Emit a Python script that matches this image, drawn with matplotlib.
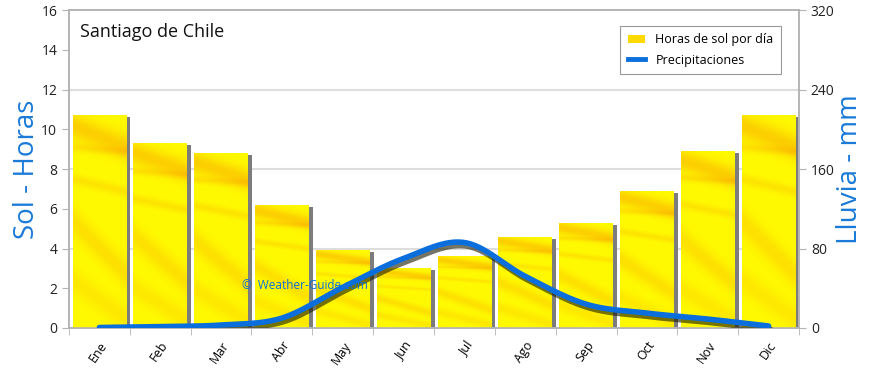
import numpy as np
import matplotlib
matplotlib.use("Agg")
from matplotlib import pyplot as plt
from matplotlib import patheffects as pe
from matplotlib.patches import Patch, Rectangle
from matplotlib.lines import Line2D

plt.rcParams['font.family'] = ['Open Sans', 'DejaVu Sans']

months = ['Ene', 'Feb', 'Mar', 'Abr', 'May', 'Jun', 'Jul', 'Ago', 'Sep', 'Oct', 'Nov', 'Dic']
sun_hours = [10.7, 9.3, 8.8, 6.2, 3.9, 3.0, 3.6, 4.6, 5.3, 6.9, 8.9, 10.7]
rain_mm = [0.5, 1.5, 3, 10, 41, 70, 86, 52, 24, 15, 9, 2]

blue = '#0a6fdc'
label_blue = '#1a7ad8'
grey = '#b4b4b4'


def bar_texture(rows=240, cols=60):
    # yellow with orange diagonal streaks, like the original bar fill
    v, u = np.mgrid[0:1:rows * 1j, 0:1:cols * 1j]
    k = np.zeros_like(u)
    k += 0.6 * np.exp(-((v - (0.05 + 0.10 * u)) / 0.06) ** 2)
    k += 0.3 * np.exp(-((v - (0.15 + 0.02 * u)) / 0.02) ** 2)
    k += 0.3 * np.exp(-((v - (0.30 + 0.06 * u)) / 0.025) ** 2)
    k += 0.35 * np.exp(-((v - (0.50 + 0.25 * u)) / 0.07) ** 2)
    k += 0.25 * np.exp(-((v - (0.78 + 0.18 * u)) / 0.06) ** 2)
    k = np.clip(k, 0, 0.9)[..., None]
    yellow = np.array([1.0, 0.98, 0.0])
    orange = np.array([0.98, 0.70, 0.0])
    return yellow * (1 - k) + orange * k


def smooth(x, y, n=30):
    x = np.asarray(x, float)
    y = np.asarray(y, float)
    m = np.gradient(y)
    xs, ys = [], []
    for i in range(len(x) - 1):
        t = np.linspace(0, 1, n, endpoint=False)
        h00 = 2 * t**3 - 3 * t**2 + 1
        h10 = t**3 - 2 * t**2 + t
        h01 = -2 * t**3 + 3 * t**2
        h11 = t**3 - t**2
        ys.append(h00 * y[i] + h10 * m[i] + h01 * y[i + 1] + h11 * m[i + 1])
        xs.append(x[i] + t * (x[i + 1] - x[i]))
    xs.append([x[-1]])
    ys.append([y[-1]])
    return np.concatenate(xs), np.concatenate(ys)


fig = plt.figure(figsize=(8.7, 3.68), dpi=100)
ax = fig.add_axes([0.0793, 0.1087, 0.8391, 0.8641])
ax2 = ax.twinx()

x = np.arange(len(months))
width = 0.88
tex = bar_texture()

# bar shadows
ax.bar(x + 0.07, np.array(sun_hours) - 0.1, width=width, color='#7c7c7c', zorder=2)
for xi, h in zip(x, sun_hours):
    rect = Rectangle((xi - width / 2, 0), width, h, facecolor='none', edgecolor='none')
    ax.add_patch(rect)
    im = ax.imshow(tex, extent=(xi - width / 2, xi + width / 2, 0, h), aspect='auto',
                   interpolation='bilinear', zorder=3)
    im.set_clip_path(rect)

for g in [4, 8, 12]:
    ax.axhline(g, color='#dddddd', lw=1.5, zorder=1)

ax.set_xlim(-0.5, 11.5)
ax.set_ylim(0, 16)
ax.set_yticks(range(0, 17, 2))
ax.set_xticks(x)
ax.set_xticklabels(months, rotation=55, ha='right', rotation_mode='anchor', fontsize=9)
ax.set_xticks(np.arange(-0.5, 12, 1), minor=True)
ax.tick_params(axis='x', which='major', length=0, pad=8)
ax.tick_params(axis='x', which='minor', length=5, color=grey)
ax.tick_params(axis='y', length=5, color=grey, labelsize=10, labelcolor='#222222')
ax.set_ylabel('Sol - Horas', fontsize=20, color=label_blue, labelpad=0)

xs, ys = smooth(x, rain_mm)
ax2.plot(xs, ys, color=blue, lw=4, solid_capstyle='round', zorder=5,
         path_effects=[pe.SimpleLineShadow(offset=(1.5, -2.5), shadow_color='#1a1a00', alpha=0.6),
                       pe.Normal()])
ax2.set_ylim(0, 320)
ax2.set_yticks(range(0, 321, 80))
ax2.tick_params(axis='y', length=5, color=grey, labelsize=10, labelcolor='#222222')
ax2.set_ylabel('Lluvia - mm', fontsize=20, color=label_blue, labelpad=1)

for a in (ax, ax2):
    for s in a.spines.values():
        s.set_color(grey)
        s.set_linewidth(1.2)

ax2.text(0.015, 0.96, 'Santiago de Chile', transform=ax.transAxes, fontsize=13,
         va='top', ha='left', color='#111111')
ax2.text(0.237, 0.135, '\u00a9  Weather-Guide.com', transform=ax.transAxes, fontsize=8.5,
         color=blue, va='center', ha='left', zorder=6)

handles = [Patch(facecolor='#ffd900', edgecolor='none'),
           Line2D([0], [0], color=blue, lw=3.5)]
leg = ax2.legend(handles, ['Horas de sol por d\u00eda', 'Precipitaciones'], loc='upper right',
                 bbox_to_anchor=(0.984, 0.97), fontsize=9, fancybox=False,
                 edgecolor='#999999', framealpha=1, handlelength=1.4, borderpad=0.6,
                 labelspacing=0.6)
leg.get_frame().set_linewidth(0.8)

fig.savefig('out.png', dpi=100)
